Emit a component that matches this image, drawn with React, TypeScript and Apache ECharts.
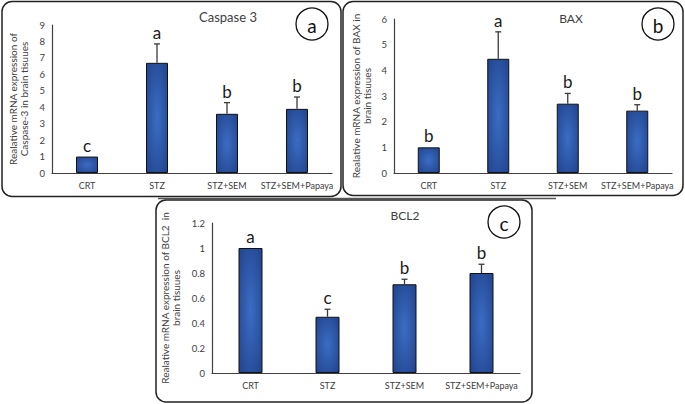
import React, { useEffect, useRef } from "react";
import * as echarts from "echarts";

const categories = ["CRT", "STZ", "STZ+SEM", "STZ+SEM+Papaya"];

const caspaseMean = [1.0, 6.7, 3.6, 3.9];
const caspaseSD = [0, 1.15, 0.68, 0.72];
const caspaseLetters = ["c", "a", "b", "b"];
const caspaseTicks = [0, 9, 1];

const baxMean = [1.0, 4.45, 2.7, 2.43];
const baxSD = [0, 1.05, 0.4, 0.23];
const baxLetters = ["b", "a", "b", "b"];
const baxTicks = [0, 6, 1];

const bcl2Mean = [1.0, 0.45, 0.71, 0.8];
const bcl2SD = [0, 0.06, 0.04, 0.07];
const bcl2Letters = ["a", "c", "b", "b"];
const bcl2Ticks = [0, 1.2, 0.2];

const FONT = "Lato, 'Open Sans', sans-serif";

const panels = [
  {
    mean: caspaseMean, sd: caspaseSD, letters: caspaseLetters, ticks: caspaseTicks,
    grid: { left: 52, top: 25, width: 280, height: 148 },
    name: "Realative mRNA expression of\nCaspase-3 in brain tisuues",
    barWidth: 22, nameGap: 23,
  },
  {
    mean: baxMean, sd: baxSD, letters: baxLetters, ticks: baxTicks,
    grid: { left: 394, top: 19, width: 278, height: 154 },
    name: "Realative mRNA expression of BAX in\nbrain tisuues",
    barWidth: 22, nameGap: 22,
  },
  {
    mean: bcl2Mean, sd: bcl2SD, letters: bcl2Letters, ticks: bcl2Ticks,
    grid: { left: 212, top: 223, width: 308, height: 150 },
    name: "Realative mRNA expression of BCL2  in\nbrain tisuues",
    barWidth: 24, nameGap: 31,
  },
];

const barColor = {
  type: "radial",
  x: 0.5,
  y: 0.5,
  r: 0.75,
  colorStops: [
    { offset: 0, color: "#3b6dc3" },
    { offset: 1, color: "#1f4089" },
  ],
};

export default function App() {
  const ref = useRef<HTMLDivElement>(null);
  useEffect(() => {
    const chart = echarts.init(ref.current!, null, { renderer: "svg" });
    const grid: any[] = [];
    const xAxis: any[] = [];
    const yAxis: any[] = [];
    const series: any[] = [];
    panels.forEach((p, k) => {
      grid.push({ ...p.grid, containLabel: false });
      xAxis.push({
        type: "category",
        gridIndex: k,
        data: categories,
        axisLine: { lineStyle: { color: "#404040", width: 1.2 } },
        axisTick: { show: false },
        axisLabel: { color: "#404040", fontSize: 9, fontFamily: FONT, margin: 8, interval: 0 },
      });
      yAxis.push({
        type: "value",
        gridIndex: k,
        min: p.ticks[0],
        max: p.ticks[1],
        interval: p.ticks[2],
        splitLine: { show: false },
        axisLine: { show: true, lineStyle: { color: "#404040", width: 1.2 } },
        axisTick: { show: false },
        axisLabel: { color: "#404040", fontSize: 9.5, fontFamily: FONT, margin: 7 },
        name: p.name,
        nameLocation: "middle",
        nameGap: p.nameGap,
        nameTextStyle: { color: "#404040", fontSize: 10, fontFamily: FONT, lineHeight: 11 },
      });
      series.push({
        type: "bar",
        xAxisIndex: k,
        yAxisIndex: k,
        data: p.mean,
        barWidth: p.barWidth,
        itemStyle: { color: barColor, borderColor: "#111", borderWidth: 1 },
      });
      series.push({
        type: "custom",
        xAxisIndex: k,
        yAxisIndex: k,
        data: p.mean.map((m, i) => [i, m, p.sd[i]]),
        z: 5,
        renderItem: (params: any, api: any) => {
          const i = api.value(0);
          const m = api.value(1);
          const s = api.value(2);
          const p0 = api.coord([i, m]);
          const p1 = api.coord([i, m + s]);
          const children: any[] = [];
          if (s > 0) {
            children.push({
              type: "line",
              shape: { x1: p0[0], y1: p0[1], x2: p1[0], y2: p1[1] },
              style: { stroke: "#3a3a3a", lineWidth: 1.3 },
            });
            children.push({
              type: "line",
              shape: { x1: p1[0] - 3, y1: p1[1], x2: p1[0] + 3, y2: p1[1] },
              style: { stroke: "#3a3a3a", lineWidth: 1.3 },
            });
          }
          children.push({
            type: "text",
            x: p1[0],
            y: p1[1] - 3,
            style: {
              text: p.letters[params.dataIndex],
              fontSize: 17,
              fontFamily: FONT,
              fill: "#1a1a1a",
              align: "center",
              verticalAlign: "bottom",
            },
          });
          return { type: "group", children };
        },
      });
    });

    const titleStyle = (text: string, x: number, y: number, size: number) => ({
      type: "text",
      x,
      y,
      style: { text, fontSize: size, fontFamily: FONT, fill: "#404040", align: "center", verticalAlign: "middle" },
    });
    const badge = (letter: string, x: number, y: number) => ({
      type: "group",
      children: [
        { type: "circle", shape: { cx: x, cy: y, r: 16 }, style: { fill: "#fff", stroke: "#111", lineWidth: 1.3 } },
        {
          type: "text",
          x,
          y: y + 1,
          style: { text: letter, fontSize: 19, fontFamily: FONT, fill: "#111", align: "center", verticalAlign: "middle" },
        },
      ],
    });

    chart.setOption({
      animation: false,
      backgroundColor: "#ffffff",
      grid,
      xAxis,
      yAxis,
      series,
      graphic: [
        { type: "rect", shape: { x: 2, y: 1.5, width: 339, height: 195, r: 10 }, style: { fill: "none", stroke: "#222", lineWidth: 1.5 } },
        { type: "rect", shape: { x: 343, y: 1.5, width: 340, height: 194, r: 10 }, style: { fill: "none", stroke: "#222", lineWidth: 1.5 } },
        { type: "line", shape: { x1: 158, y1: 198.5, x2: 556, y2: 198.5 }, style: { stroke: "#555", lineWidth: 1.5 } },
        { type: "rect", shape: { x: 156, y: 200, width: 376, height: 202, r: 10 }, style: { fill: "none", stroke: "#222", lineWidth: 1.5 } },
        titleStyle("Caspase 3", 228, 17, 13),
        titleStyle("BAX", 571, 18, 12),
        titleStyle("BCL2", 405, 215, 12),
        badge("a", 312, 24),
        badge("b", 658, 24),
        badge("c", 504, 222),
      ],
    });
    return () => chart.dispose();
  }, []);
  return <div ref={ref} style={{ position: "absolute", left: 0, top: 0, width: 685, height: 404 }} />;
}
